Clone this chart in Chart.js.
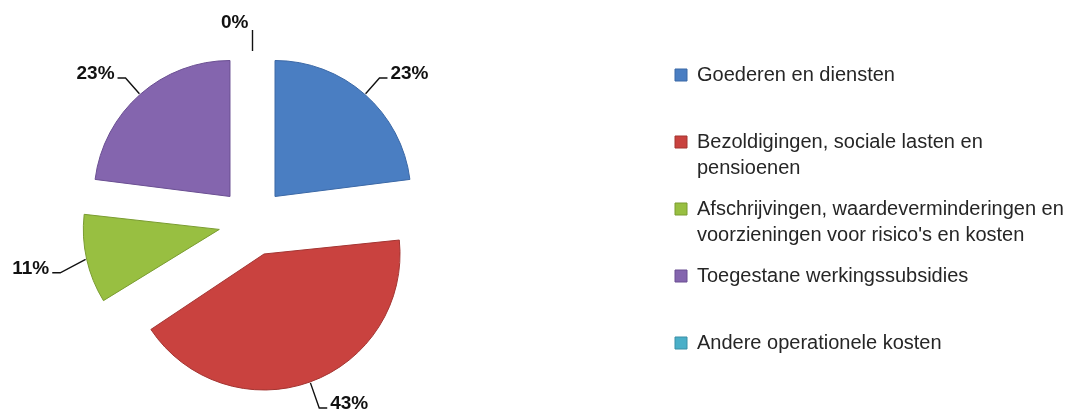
<!DOCTYPE html>
<html lang="nl">
<head>
  <meta charset="UTF-8">
  <title>Kosten per soort</title>
  <script src="https://cdn.jsdelivr.net/npm/chart.js"></script>
  <style>
    body { margin: 0; padding: 0; background: #fff; }
    #kosten { display: block; }
  </style>
</head>
<body>
  <canvas id="kosten" width="1088" height="416"></canvas>

  <script>
    // categorieen (al in regels gesplitst zoals in de legende)
    const categories = [
      ['Goederen en diensten'],
      ['Bezoldigingen, sociale lasten en', 'pensioenen'],
      ['Afschrijvingen, waardeverminderingen en', 'voorzieningen voor risico\'s en kosten'],
      ['Toegestane werkingssubsidies'],
      ['Andere operationele kosten']
    ];
    const shares = [23, 43, 11, 23, 0];
    const fillColors = ['#4A7EC2', '#C9423F', '#98BF41', '#8465AE', '#4AAFC8'];
    const edgeColors = ['#3B68A6', '#A33431', '#7A9C31', '#6A4F92', '#3A8FA6'];

    const pieRadius = 136;
    const explode = 136; // chart.js schuift een stuk offset/4 op
    const plotWidth = 505; // taart staat niet midden in het canvas maar links

    // plotgebied links houden, legende staat er los rechts van
    const plotArea = {
      id: 'plotArea',
      afterLayout(chart) {
        const a = chart.chartArea;
        a.left = 0;
        a.right = plotWidth;
        a.width = plotWidth;
      }
    };

    // chart.js maakt stukken groter bij offset, hier terugzetten
    const keepRadius = {
      id: 'keepRadius',
      afterDatasetsUpdate(chart) {
        chart.getDatasetMeta(0).data.forEach(arc => {
          const t = (arc.options.offset || 0) / 4;
          const fix = 1 - Math.sin(Math.min(Math.PI, arc.circumference || 0));
          arc.outerRadius = pieRadius - t * fix;
        });
      }
    };

    // percentages met verbindingslijntjes
    const sliceLabels = {
      id: 'sliceLabels',
      afterDatasetsDraw(chart) {
        const ctx = chart.ctx;
        const total = shares.reduce((a, b) => a + b, 0);
        ctx.save();
        ctx.font = 'bold 19px "Liberation Sans", Arial, sans-serif';
        ctx.fillStyle = '#111';
        ctx.strokeStyle = '#111';
        ctx.lineWidth = 1.4;
        ctx.textBaseline = 'alphabetic';
        chart.getDatasetMeta(0).data.forEach((arc, i) => {
          const mid = (arc.startAngle + arc.endAngle) / 2;
          const dx = Math.cos(mid), dy = Math.sin(mid);
          const t = (arc.options.offset || 0) / 4;
          const ex = arc.x + dx * (t + pieRadius + 1);
          const ey = arc.y + dy * (t + pieRadius + 1);
          const len = dy > 0 ? 26 : 21;
          const kx = ex + dx * len;
          const ky = ey + dy * len + (dy > 0 ? 10 * (1 - dy) : 0);
          const txt = Math.round(shares[i] / total * 100) + '%';
          ctx.beginPath();
          ctx.moveTo(ex, ey);
          ctx.lineTo(kx, ky);
          if (Math.abs(dx) < 0.15) {
            ctx.stroke();
            ctx.textAlign = 'right';
            ctx.fillText(txt, kx - 4, ky - 2);
          } else {
            const side = dx > 0 ? 1 : -1;
            ctx.lineTo(kx + side * 8, ky);
            ctx.stroke();
            ctx.textAlign = side > 0 ? 'left' : 'right';
            ctx.fillText(txt, kx + side * 11, ky + 1);
          }
        });
        ctx.restore();
      }
    };

    const ctx = document.getElementById('kosten').getContext('2d');
    const chart = new Chart(ctx, {
      type: 'pie',
      data: {
        labels: categories,
        datasets: [{
          data: shares,
          backgroundColor: fillColors,
          borderColor: edgeColors,
          borderWidth: 1,
          offset: explode
        }]
      },
      options: {
        responsive: false,
        animation: false,
        radius: pieRadius,
        layout: { padding: { left: 0, right: 8, top: 50, bottom: 22 } },
        plugins: {
          tooltip: { enabled: false },
          legend: {
            position: 'right',
            align: 'start',
            maxWidth: 420,
            labels: {
              boxWidth: 12,
              boxHeight: 12,
              padding: 15,
              color: '#262626',
              font: { family: '"Liberation Sans", Arial, sans-serif', size: 20, lineHeight: 1.3 },
              generateLabels(chart) {
                const items = Chart.overrides.pie.plugins.legend.labels.generateLabels(chart);
                items.forEach(it => {
                  // elke regel krijgt twee regels ruimte, zoals in het origineel
                  if (it.text.length < 2) it.text = [...it.text, ''];
                });
                return items;
              }
            }
          }
        }
      },
      plugins: [plotArea, keepRadius, sliceLabels]
    });
  </script>
</body>
</html>
